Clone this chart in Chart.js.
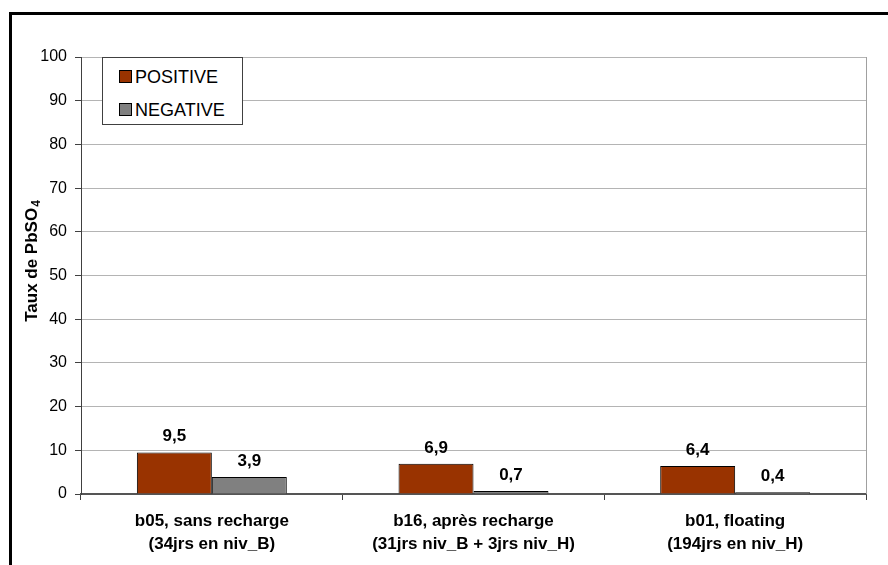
<!DOCTYPE html>
<html>
<head>
<meta charset="utf-8">
<script src="https://cdn.jsdelivr.net/npm/chart.js@4/dist/chart.umd.min.js"></script>
<style>
    body { margin: 0; background: #fff; }
    #wrap { position: relative; width: 888px; height: 565px; overflow: hidden; }
    #frame {
        position: absolute; left: 9px; top: 12px; width: 1000px; height: 1000px;
        border-top: 3px solid #000; border-left: 3px solid #000;
    }
    canvas { position: absolute; left: 0; top: 0; }
    #legend {
        position: absolute; left: 102px; top: 57px; width: 139px; height: 66px;
        background: #fff; border: 1px solid #404040;
        font-family: "Liberation Sans", Arial, sans-serif; font-size: 18px; color: #000;
    }
    .item { position: absolute; left: 16px; height: 20px; line-height: 20px; }
    .item span.sw {
        position: absolute; left: 0; top: 3px; width: 11px; height: 11px;
        border: 1px solid #000;
    }
    .item span.tx { position: absolute; left: 16px; top: 0; white-space: nowrap; }
</style>
</head>
<body>
<div id="wrap">
    <div id="frame"></div>
    <canvas id="chart" width="888" height="565"></canvas>
    <div id="legend"></div>
</div>
<script>
const categories = [
    ["b05, sans recharge", "(34jrs en niv_B)"],
    ["b16, après recharge", "(31jrs niv_B + 3jrs niv_H)"],
    ["b01, floating", "(194jrs en niv_H)"]
];
const positiveValues = [9.5, 6.9, 6.4];
const negativeValues = [3.9, 0.7, 0.4];
const seriesNames = ["POSITIVE", "NEGATIVE"];
const seriesColors = ["#993300", "#808080"];

const FONT = '"Liberation Sans", Arial, sans-serif';

// value labels above the bars, comma decimal
const valueLabels = {
    id: 'valueLabels',
    afterDatasetsDraw(chart) {
        const ctx = chart.ctx;
        ctx.save();
        ctx.font = 'bold 17px ' + FONT;
        ctx.fillStyle = '#000';
        ctx.textAlign = 'center';
        ctx.textBaseline = 'alphabetic';
        chart.data.datasets.forEach((ds, i) => {
            chart.getDatasetMeta(i).data.forEach((bar, j) => {
                const txt = ds.data[j].toFixed(1).replace('.', ',');
                ctx.fillText(txt, bar.x, bar.y - 11);
            });
        });
        ctx.restore();
    }
};

// gray right edge of plot area + y title with subscript
const frameAndTitle = {
    id: 'frameAndTitle',
    beforeDatasetsDraw(chart) {
        const { ctx, chartArea } = chart;
        ctx.save();
        ctx.strokeStyle = '#a0a0a0';
        ctx.lineWidth = 1;
        ctx.beginPath();
        ctx.moveTo(chartArea.right + 0.5, chartArea.top);
        ctx.lineTo(chartArea.right + 0.5, chartArea.bottom);
        ctx.stroke();
        ctx.restore();
    },
    afterDraw(chart) {
        const ctx = chart.ctx;
        const mid = (chart.chartArea.top + chart.chartArea.bottom) / 2 - 14;
        const main = 'Taux de PbSO';
        ctx.save();
        ctx.translate(37, mid);
        ctx.rotate(-Math.PI / 2);
        ctx.fillStyle = '#000';
        ctx.textBaseline = 'alphabetic';
        ctx.font = 'bold 17px ' + FONT;
        const w1 = ctx.measureText(main).width;
        ctx.font = 'bold 12px ' + FONT;
        const w2 = ctx.measureText('4').width;
        const start = -(w1 + w2) / 2;
        ctx.font = 'bold 17px ' + FONT;
        ctx.textAlign = 'left';
        ctx.fillText(main, start, 0);
        ctx.font = 'bold 12px ' + FONT;
        ctx.fillText('4', start + w1 + 1, 3);
        ctx.restore();
    }
};

const chart = new Chart(document.getElementById('chart'), {
    type: 'bar',
    data: {
        labels: categories,
        datasets: [
            { label: seriesNames[0], data: positiveValues, backgroundColor: seriesColors[0],
              borderColor: '#000', borderWidth: 1, borderSkipped: 'bottom' },
            { label: seriesNames[1], data: negativeValues, backgroundColor: seriesColors[1],
              borderColor: '#000', borderWidth: 1, borderSkipped: 'bottom' }
        ]
    },
    options: {
        responsive: false,
        animation: false,
        devicePixelRatio: 1,
        categoryPercentage: 0.573,
        barPercentage: 1,
        layout: { padding: { left: 0, top: 57, right: 22, bottom: 0 } },
        plugins: {
            legend: { display: false },
            tooltip: { enabled: false }
        },
        scales: {
            x: {
                afterFit: s => { s.height = 71; },
                grid: { drawOnChartArea: false, drawTicks: true, tickLength: 6, tickColor: '#404040', offset: true },
                border: { color: '#555', width: 2 },
                ticks: { color: '#000', font: { family: FONT, size: 17, weight: 'bold', lineHeight: 1.35 }, padding: 10, maxRotation: 0 }
            },
            y: {
                min: 0, max: 100,
                afterFit: s => { s.width = 81; },
                grid: { color: '#b4b4b4', tickColor: '#404040', tickLength: 6 },
                border: { color: '#404040', width: 1 },
                ticks: { stepSize: 10, color: '#000', font: { family: FONT, size: 16 }, padding: 8 }
            }
        }
    },
    plugins: [valueLabels, frameAndTitle]
});

// legend box
const legend = document.getElementById('legend');
seriesNames.forEach((name, i) => {
    const item = document.createElement('div');
    item.className = 'item';
    item.style.top = (9 + i * 33) + 'px';
    item.innerHTML = '<span class="sw" style="background:' + seriesColors[i] + '"></span><span class="tx">' + name + '</span>';
    legend.appendChild(item);
});
</script>
</body>
</html>
